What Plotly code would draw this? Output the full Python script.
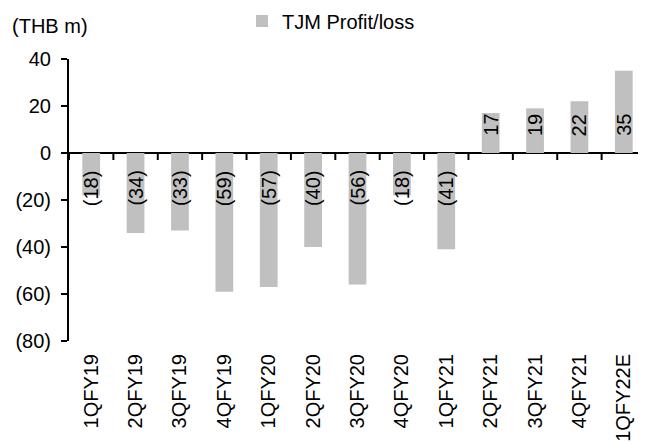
import plotly.graph_objects as go

categories = ["1QFY19", "2QFY19", "3QFY19", "4QFY19", "1QFY20", "2QFY20", "3QFY20",
              "4QFY20", "1QFY21", "2QFY21", "3QFY21", "4QFY21", "1QFY22E"]
profit_loss = [-18, -34, -33, -59, -57, -40, -56, -18, -41, 17, 19, 22, 35]
y_tickvals = [40, 20, 0, -20, -40, -60, -80]
y_ticktext = ["40", "20", "0", "(20)", "(40)", "(60)", "(80)"]
series_name = "TJM Profit/loss"
unit_label = "(THB m)"

FONT = "Liberation Sans, Arial, sans-serif"
FS = 20
BAR_COLOR = "#c0c0c0"

# page has an 8px body margin, so the figure is sized to end at the window edge
W, H = 638, 438
ML, MR, MT, MB = 61, 0, 51, 105
pw, ph = W - ML - MR, H - MT - MB


def px_x(p):
    return (p - ML) / pw


def px_y(p):
    return 1 - (p - MT) / ph


def fmt(v):
    return f"({abs(v):.0f})" if v < 0 else f"{v:.0f}"


fig = go.Figure()
fig.add_trace(go.Bar(
    x=categories, y=profit_loss, name=series_name,
    marker=dict(color=BAR_COLOR, line=dict(width=0)),
    width=0.4, showlegend=True,
))

annotations = []
for c, v in zip(categories, profit_loss):
    annotations.append(dict(
        x=c, y=0, xref="x", yref="y", text=fmt(v), showarrow=False,
        textangle=-90, font=dict(family=FONT, size=FS, color="black"),
        xanchor="center", yanchor="bottom" if v >= 0 else "top",
        yshift=15 if v >= 0 else -15,
    ))
annotations.append(dict(
    x=px_x(2), y=px_y(18), xref="paper", yref="paper", text=unit_label,
    showarrow=False, font=dict(family=FONT, size=FS, color="black"),
    xanchor="left", yanchor="middle",
))

shapes = []
for i in range(len(categories) + 1):
    shapes.append(dict(
        type="line", xref="x", yref="y", x0=i - 0.5, x1=i - 0.5,
        ysizemode="pixel", yanchor=0, y0=0, y1=-7,
        line=dict(color="black", width=2),
    ))

fig.update_layout(
    width=W, height=H,
    margin=dict(l=ML, r=MR, t=MT, b=MB, pad=0, autoexpand=False),
    paper_bgcolor="white", plot_bgcolor="white",
    font=dict(family=FONT, size=FS, color="black"),
    xaxis=dict(
        type="category", range=[-0.5, len(categories) - 0.5],
        showline=False, showgrid=False, zeroline=False, ticks="",
        tickangle=-90, tickfont=dict(family=FONT, size=FS),
        ticklabelstandoff=8, automargin=False,
    ),
    yaxis=dict(
        range=[-80, 40], tickvals=y_tickvals, ticktext=y_ticktext,
        showline=True, linecolor="black", linewidth=2,
        ticks="outside", ticklen=6, tickwidth=2, tickcolor="black",
        showgrid=False, zeroline=True, zerolinecolor="black", zerolinewidth=2,
        tickfont=dict(family=FONT, size=FS), ticklabelstandoff=6,
        automargin=False,
    ),
    legend=dict(
        orientation="h", x=px_x(234), y=px_y(13),
        xanchor="left", yanchor="middle", bgcolor="rgba(0,0,0,0)",
        font=dict(family=FONT, size=FS),
    ),
    annotations=annotations, shapes=shapes,
)
fig.write_html("out.html")
